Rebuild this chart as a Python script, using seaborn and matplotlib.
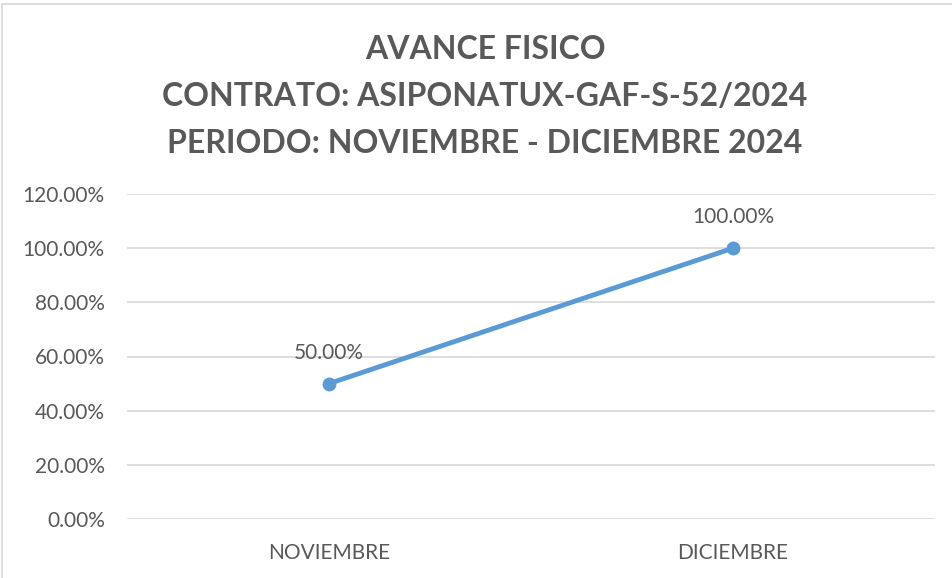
import matplotlib
matplotlib.use('Agg')
import matplotlib.pyplot as plt
import seaborn as sns
import pandas as pd
from matplotlib.patches import Rectangle
from matplotlib.ticker import PercentFormatter

sns.set_theme(style="white")
plt.rcParams['font.family'] = ['Lato', 'DejaVu Sans']

# Data
meses = ["NOVIEMBRE", "DICIEMBRE"]
avance = [0.50, 1.00]
yticks = [0.0, 0.2, 0.4, 0.6, 0.8, 1.0, 1.2]
titulo = "AVANCE FISICO\nCONTRATO: ASIPONATUX-GAF-S-52/2024\nPERIODO: NOVIEMBRE - DICIEMBRE 2024"

df = pd.DataFrame({"mes": meses, "avance": avance})

gris = "#595959"
azul = "#5B9BD5"

fig = plt.figure(figsize=(9.52, 5.78), dpi=100)
ax = fig.add_axes([127 / 952, 1 - 519 / 578, (935 - 127) / 952, (519 - 194) / 578])

sns.lineplot(data=df, x="mes", y="avance", ax=ax, color=azul, linewidth=3.5,
             marker="o", markersize=10, markeredgewidth=0, sort=False)

for i, v in enumerate(avance):
    ax.annotate(f"{v * 100:.2f}%", (i, v), xytext=(0, 15), textcoords="offset points",
                ha="center", va="bottom", fontsize=15, color=gris)

ax.set_xlim(-0.5, 1.5)
ax.set_ylim(0, 1.2)
ax.set_yticks(yticks)
ax.yaxis.set_major_formatter(PercentFormatter(1.0, decimals=2))
ax.grid(axis="y", color="#d9d9d9", linewidth=1.2)
ax.set_axisbelow(True)
for s in ax.spines.values():
    s.set_visible(False)
ax.tick_params(axis="both", length=0, labelsize=15, labelcolor=gris)
ax.tick_params(axis="y", pad=16)
ax.tick_params(axis="x", pad=17)
ax.set_xlabel("")
ax.set_ylabel("")

fig.text(485 / 952, 1 - 35 / 578, titulo, ha="center", va="top", fontsize=23,
         fontweight="bold", color=gris, linespacing=1.74)

# chart border
fig.patches.append(Rectangle((2 / 952, -0.05), 1.1, 1 - 4 / 578 + 0.05,
                             transform=fig.transFigure, fill=False,
                             edgecolor="#d9d9d9", linewidth=1.3))

fig.savefig("out.png", dpi=100)
